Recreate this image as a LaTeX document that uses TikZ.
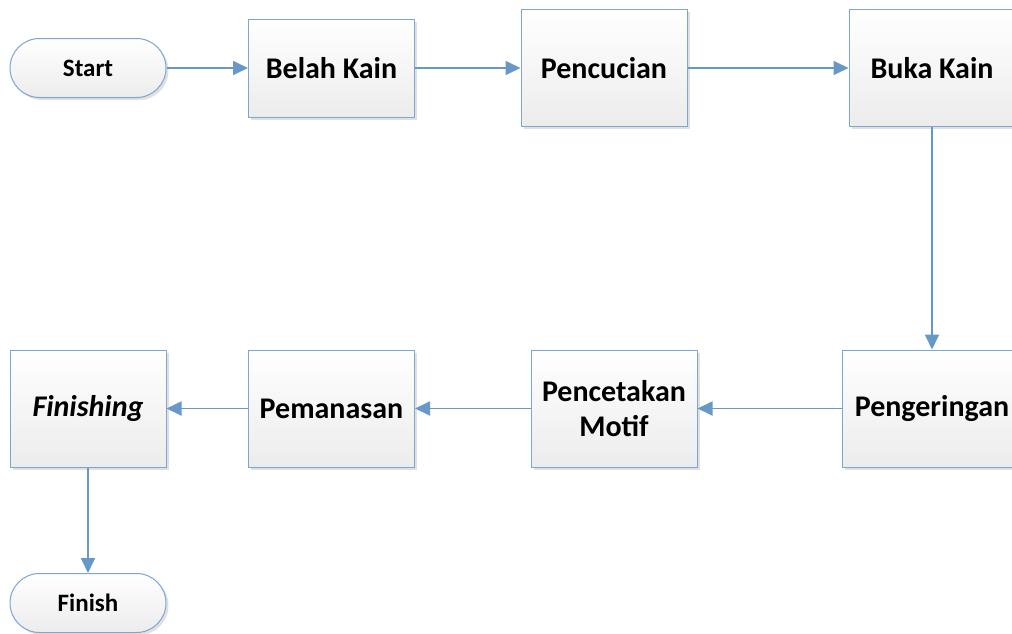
\documentclass[tikz,border=0pt]{standalone}
\usepackage{fontspec}
\setmainfont{Carlito}
\usetikzlibrary{arrows.meta,shadows}
\definecolor{flowline}{RGB}{104,152,200}
\definecolor{boxedge}{RGB}{126,166,210}
\definecolor{boxbottom}{RGB}{236,236,236}
\tikzset{
  procbox/.style={draw=boxedge, line width=1pt, top color=white, bottom color=boxbottom,
    minimum width=166pt, minimum height=117pt, inner sep=0pt, align=center,
    font=\fontsize{30}{35}\selectfont\bfseries,
    drop shadow={shadow xshift=2.5pt, shadow yshift=-2.5pt, fill=black!30, opacity=0.4}},
  termbox/.style={draw=boxedge, line width=1pt, top color=white, bottom color=boxbottom,
    minimum width=156pt, minimum height=59pt, inner sep=0pt, rounded corners=29.5pt,
    font=\fontsize{25}{28}\selectfont\bfseries,
    drop shadow={shadow xshift=2.5pt, shadow yshift=-2.5pt, fill=black!30, opacity=0.4}},
  flow/.style={draw=flowline, line width=1.8pt, -{Triangle[length=15pt,width=14pt]}}
}
\begin{document}
\begin{tikzpicture}[x=1pt, y=-1pt]
\useasboundingbox (0,0) rectangle (1012,633);
\clip (0,0) rectangle (1012,633);
% top row
\node[termbox] (start) at (88,68) {Start};
\node[procbox, minimum height=98pt] (belah) at (331.5,68) {Belah Kain};
\node[procbox] (cuci) at (604,68) {Pencucian};
\node[procbox] (buka) at (932,68) {Buka Kain};
% bottom row
\node[procbox, minimum width=180pt] (kering) at (932,408.5) {Pengeringan};
\node[procbox] (cetak) at (614,408.5) {Pencetakan\\Motif};
\node[procbox] (panas) at (331.5,408.5) {Pemanasan};
\node[procbox, minimum width=156pt] (finishing) at (88,408.5) {\itshape Finishing};
\node[termbox] (finish) at (88,603) {Finish};
% connectors
\draw[flow] (start) -- (belah);
\draw[flow] (belah) -- (cuci);
\draw[flow] (cuci) -- (buka);
\draw[flow] (buka) -- (kering);
\draw[flow] (kering) -- (cetak);
\draw[flow] (cetak) -- (panas);
\draw[flow] (panas) -- (finishing);
\draw[flow] (finishing) -- (finish);
\end{tikzpicture}
\end{document}
